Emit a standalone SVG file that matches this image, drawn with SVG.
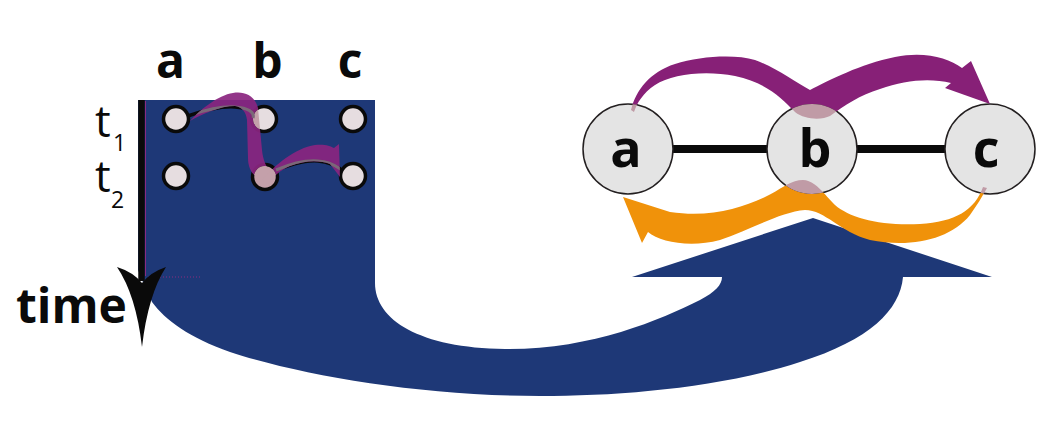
<svg xmlns="http://www.w3.org/2000/svg" width="1061" height="432" viewBox="0 0 1061 432">
<style>
.lbl{font-family:"Open Sans","Liberation Sans",sans-serif;font-weight:700;fill:#0a0a0a;text-anchor:middle}
.tl{font-family:"Open Sans","Liberation Sans",sans-serif;font-weight:400;fill:#0a0a0a}
.dot{fill:#e6dde0;stroke:#0a0a0a;stroke-width:3.5}
.node{fill:#e4e4e4;stroke:#231f20;stroke-width:1.5}
.mauve{fill:#c09ba6}
</style>
<defs>
<path id="bandA" d="M 190 121 C 200 110, 218 95, 233 93 C 245 91, 255 96, 258 108 L 262 150 C 263 160, 266 168, 272 172 L 262 180 C 252 176, 248 168, 248 158 L 247 120 C 246 112, 242 107, 235 106 C 220 106, 202 114, 190 121 Z"/>
<path id="bandB" d="M 262 180 C 275 165, 295 148, 315 145 C 325 144, 330 146, 334 148 L 339 144 L 340 177 L 330 164 C 320 160, 305 160, 290 166 C 280 170, 272 178, 268 184 Z"/>
<path id="purple" d="M 631 110 C 636 90, 650 72, 675 64 C 700 56, 735 54, 755 60 C 775 67, 795 82, 810 90 C 830 80, 860 64, 895 57 C 925 51, 948 58, 962 68 L 971 61 L 990 104 L 945 88 L 951 83 C 930 78, 905 80, 880 89 C 860 95, 845 105, 830 116 C 822 120, 805 120, 795 112 C 782 98, 765 82, 735 76 C 705 70, 672 74, 655 85 C 643 93, 637 103, 634 112 Z"/>
<path id="orange" d="M 983 187 C 975 210, 955 222, 920 224 C 880 226, 850 218, 835 205 C 825 195, 815 180, 803 180 C 790 180, 780 190, 765 197 C 740 208, 710 218, 670 212 L 623 197 L 642 243 L 648 232 C 660 242, 690 248, 720 240 C 750 230, 780 212, 805 210 C 825 210, 840 232, 870 240 C 910 248, 950 240, 970 215 C 977 205, 982 197, 987 188 Z"/>
<clipPath id="lclip">
<circle cx="176" cy="119" r="11"/><circle cx="264" cy="119" r="11"/><circle cx="353" cy="119" r="11"/>
<circle cx="176" cy="176" r="11"/><circle cx="265" cy="177" r="11"/><circle cx="353" cy="176" r="11"/>
</clipPath>
<mask id="lmask" maskUnits="userSpaceOnUse" x="0" y="0" width="1061" height="432">
<rect x="0" y="0" width="1061" height="432" fill="#fff"/>
<circle cx="176" cy="119" r="11" fill="#000"/><circle cx="264" cy="119" r="11" fill="#000"/><circle cx="353" cy="119" r="11" fill="#000"/>
<circle cx="176" cy="176" r="11" fill="#000"/><circle cx="265" cy="177" r="11" fill="#000"/><circle cx="353" cy="176" r="11" fill="#000"/>
</mask>
<clipPath id="bclip"><use href="#bandA"/><use href="#bandB"/></clipPath>
<clipPath id="rclip"><circle cx="628" cy="149" r="45"/><circle cx="812" cy="149" r="45"/><circle cx="990" cy="149" r="45"/></clipPath>
<mask id="rmask" maskUnits="userSpaceOnUse" x="0" y="0" width="1061" height="432">
<rect x="0" y="0" width="1061" height="432" fill="#fff"/>
<circle cx="628" cy="149" r="45" fill="#000"/><circle cx="812" cy="149" r="45" fill="#000"/><circle cx="990" cy="149" r="45" fill="#000"/>
</mask>
</defs>

<g id="flow-arrow">
<path fill="#1e3877" d="M 138 100 L 375 100 L 375 283 C 375 320, 420 348, 505 349 C 590 350, 660 320, 700 300 C 715 292, 722 285, 722 277 L 632 277 L 813 218 L 992 277 L 903 277 C 900 310, 870 340, 800 362 C 720 388, 620 396, 540 396 C 420 396, 300 375, 230 352 C 190 338, 165 320, 152 302 L 142 280 L 138 270 Z"/>
</g>

<g id="time-axis">
<line x1="141.5" y1="100" x2="141.5" y2="281" stroke="#0a0a0a" stroke-width="6.5"/>
<line x1="145.5" y1="101" x2="145.5" y2="276" stroke="#8a2a80" stroke-width="1"/>
<line x1="148" y1="277" x2="200" y2="277" stroke="#8a2a80" stroke-width="1" stroke-dasharray="1 2"/>
<path fill="#0a0a0a" d="M 117 267 Q 133 272 142 283 Q 151 272 166 267 Q 148 295 142 347 Q 136 295 117 267 Z"/>
<text class="lbl" x="16" y="323" font-size="48" style="text-anchor:start">time</text>
</g>

<g id="time-labels">
<text class="tl" x="95" y="137" font-size="44">t</text>
<text class="tl" x="113" y="151" font-size="23">1</text>
<text class="tl" x="95" y="192" font-size="44">t</text>
<text class="tl" x="111" y="208" font-size="23">2</text>
<text class="lbl" x="170.5" y="78" font-size="48">a</text>
<text class="lbl" x="267.5" y="78" font-size="48">b</text>
<text class="lbl" x="350" y="78" font-size="48">c</text>
</g>

<g id="connectors">
<g id="left-edges" fill="none" stroke="#0a0a0a" stroke-width="3.5">
<path d="M 188 116 C 205 110, 220 106, 235 107 C 248 108, 255 112, 260 118"/>
<path d="M 270 173 C 290 164, 305 160, 318 161 C 330 162, 337 166, 343 171"/>
</g>
<g id="right-edges">
<line x1="672" y1="149" x2="768" y2="149" stroke="#0a0a0a" stroke-width="8"/>
<line x1="856" y1="149" x2="946" y2="149" stroke="#0a0a0a" stroke-width="8"/>
</g>
</g>

<g id="node-a-t1"><circle class="dot" cx="176" cy="119" r="12.5"/></g>
<g id="node-b-t1"><circle class="dot" cx="264" cy="119" r="12.5"/></g>
<g id="node-c-t1"><circle class="dot" cx="353" cy="119" r="12.5"/></g>
<g id="node-a-t2"><circle class="dot" cx="176" cy="176" r="12.5"/></g>
<g id="node-b-t2"><circle class="dot" cx="265" cy="177" r="12.5" style="fill:#c4a0aa"/></g>
<g id="node-c-t2"><circle class="dot" cx="353" cy="176" r="12.5"/></g>

<g id="temporal-path">
<g mask="url(#lmask)" fill="#8a2580" opacity="0.92">
<use href="#bandA"/><use href="#bandB"/>
</g>
<g clip-path="url(#lclip)" fill="#c4a0aa">
<use href="#bandA"/><use href="#bandB"/>
</g>
<g clip-path="url(#bclip)" fill="none" stroke="#7a6878" stroke-width="3">
<path d="M 188 116 C 205 110, 220 106, 235 107 C 248 108, 255 112, 253 118"/>
<path d="M 276 170 C 290 164, 305 160, 318 161 C 330 162, 337 166, 343 171"/>
</g>
</g>

<g id="node-a"><circle class="node" cx="628" cy="149" r="45"/><text class="lbl" x="626" y="167" font-size="52">a</text></g>
<g id="node-b"><circle class="node" cx="812" cy="149" r="45"/><text class="lbl" x="815" y="167" font-size="52">b</text></g>
<g id="node-c"><circle class="node" cx="990" cy="149" r="45"/><text class="lbl" x="986" y="167" font-size="52">c</text></g>

<g id="flows">
<g mask="url(#rmask)">
<use href="#purple" fill="#872077"/>
<use href="#orange" fill="#f0920a"/>
</g>
<g clip-path="url(#rclip)" class="mauve">
<use href="#purple"/>
<use href="#orange"/>
</g>
</g>
</svg>
